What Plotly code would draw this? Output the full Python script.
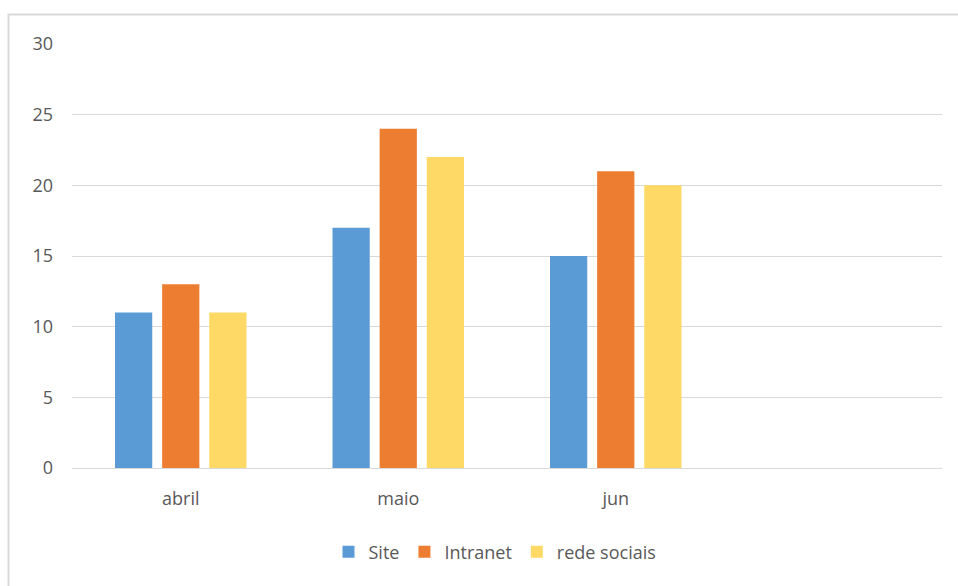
import plotly.graph_objects as go

categories = ["abril", "maio", "jun"]
site = [11, 17, 15]
intranet = [13, 24, 21]
rede_sociais = [11, 22, 20]
series_names = ["Site", "Intranet", "rede sociais"]
colors = ["#5B9BD5", "#ED7D31", "#FFD966"]

W, H = 958, 586
ml, mr, mt, mb = 72, 16, 44, 118
pw = W - ml - mr
ph = H - mt - mb

fig = go.Figure()
for name, vals, c in zip(series_names, [site, intranet, rede_sociais], colors):
    fig.add_trace(go.Bar(name=name, x=categories, y=vals, marker=dict(color=c, line=dict(width=0))))

font = dict(family="Open Sans, Liberation Sans, sans-serif", size=18, color="#595959")

fig.update_layout(
    width=W, height=H,
    margin=dict(l=ml, r=mr, t=mt, b=mb),
    paper_bgcolor="white", plot_bgcolor="white",
    barmode="group", bargap=0.35, bargroupgap=0.21,
    font=font,
    xaxis=dict(type="category", range=[-0.5, 3.5], showgrid=False, showline=True,
               linecolor="#D9D9D9", linewidth=1, ticks="", tickfont=font, ticklabelstandoff=14),
    yaxis=dict(range=[0, 30], dtick=5, showgrid=True, gridcolor="#D9D9D9", gridwidth=1,
               zeroline=False, showline=False, ticks="", tickfont=font, ticklabelstandoff=18),
    legend=dict(orientation="h", x=(495 - ml) / pw, xanchor="center",
                y=-(552 - mt - ph) / ph, yanchor="middle", font=font,
                itemwidth=30, traceorder="normal"),
    showlegend=True,
)
fig.add_shape(type="rect", xref="paper", yref="paper",
              x0=(8.5 - ml) / pw, x1=(W + 5 - ml) / pw,
              y0=-(H + 5 - mt - ph) / ph, y1=(H - 14.5 - mb) / ph,
              line=dict(color="#D9D9D9", width=2), fillcolor="rgba(0,0,0,0)", layer="below")

fig.write_html("out.html")
